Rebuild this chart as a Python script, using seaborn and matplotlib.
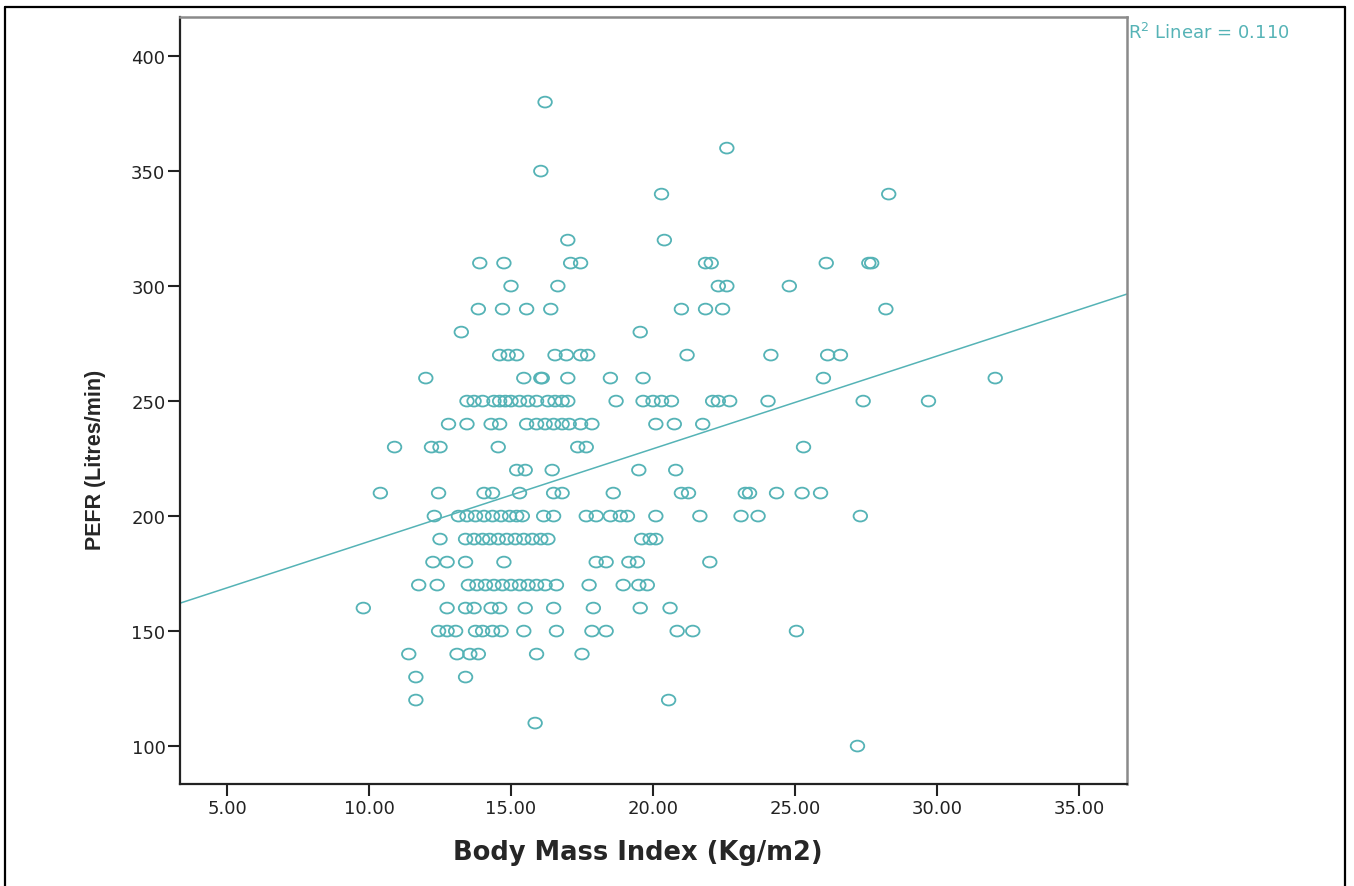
import numpy as np
import pandas as pd
import seaborn as sns
import matplotlib.pyplot as plt
from matplotlib.lines import Line2D
from matplotlib.path import Path
from matplotlib.transforms import Affine2D

# PEFR 값(행)별로 읽은 BMI 값
bmi_380 = [16.2]
bmi_360 = [22.6]
bmi_350 = [16.05]
bmi_340 = [20.3, 28.3]
bmi_320 = [17.0, 20.4]
bmi_310 = [13.9, 14.75, 17.1, 17.45, 21.85, 22.05, 26.1, 27.6, 27.7]
bmi_300 = [15.0, 16.65, 22.3, 22.6, 24.8]
bmi_290 = [13.85, 14.7, 15.55, 16.4, 21.0, 21.85, 22.45, 28.2]
bmi_280 = [13.25, 19.55]
bmi_270 = [14.6, 14.9, 15.2, 16.55, 16.95, 17.45, 17.7, 21.2, 24.15, 26.15, 26.6]
bmi_260 = [12.0, 15.45, 16.05, 16.1, 17.0, 18.5, 19.65, 26.0, 32.05]
bmi_250 = [13.45, 13.7, 14.0, 14.4, 14.6, 14.8, 15.0, 15.3, 15.6, 15.9, 16.3, 16.55,
           16.8, 17.0, 18.7, 19.65, 20.0, 20.3, 20.65, 22.1, 22.3, 22.7, 24.05, 27.4, 29.7]
bmi_240 = [12.8, 13.45, 14.3, 14.6, 15.55, 15.9, 16.2, 16.5, 16.8, 17.05, 17.45, 17.85,
           20.1, 20.75, 21.75]
bmi_230 = [10.9, 12.2, 12.5, 14.55, 17.35, 17.65, 25.3]
bmi_220 = [15.2, 15.5, 16.45, 19.5, 20.8]
bmi_210 = [10.4, 12.45, 14.05, 14.35, 15.3, 16.5, 16.8, 18.6, 21.0, 21.25, 23.25, 23.4,
           24.35, 25.25, 25.9]
bmi_200 = [12.3, 13.15, 13.45, 13.75, 14.05, 14.35, 14.65, 14.95, 15.2, 15.4, 16.15, 16.5,
           17.65, 18.0, 18.5, 18.85, 19.1, 20.1, 21.65, 23.1, 23.7, 27.3]
bmi_190 = [12.5, 13.4, 13.7, 14.0, 14.25, 14.55, 14.85, 15.15, 15.45, 15.75, 16.05, 16.3,
           19.6, 19.9, 20.1]
bmi_180 = [12.25, 12.75, 13.4, 14.75, 18.0, 18.35, 19.15, 19.45, 22.0]
bmi_170 = [11.75, 12.4, 13.5, 13.8, 14.1, 14.4, 14.7, 15.0, 15.3, 15.6, 15.9, 16.2, 16.6,
           17.75, 18.95, 19.5, 19.8]
bmi_160 = [9.8, 12.75, 13.4, 13.7, 14.3, 14.6, 15.5, 16.5, 17.9, 19.55, 20.6]
bmi_150 = [12.45, 12.75, 13.05, 13.75, 14.0, 14.35, 14.65, 15.45, 16.6, 17.85, 18.35,
           20.85, 21.4, 25.05]
bmi_140 = [11.4, 13.1, 13.55, 13.85, 15.9, 17.5]
bmi_130 = [11.65, 13.4]
bmi_120 = [11.65, 20.55]
bmi_110 = [15.85]
bmi_100 = [27.2]

rows = {380: bmi_380, 360: bmi_360, 350: bmi_350, 340: bmi_340, 320: bmi_320,
        310: bmi_310, 300: bmi_300, 290: bmi_290, 280: bmi_280, 270: bmi_270,
        260: bmi_260, 250: bmi_250, 240: bmi_240, 230: bmi_230, 220: bmi_220,
        210: bmi_210, 200: bmi_200, 190: bmi_190, 180: bmi_180, 170: bmi_170,
        160: bmi_160, 150: bmi_150, 140: bmi_140, 130: bmi_130, 120: bmi_120,
        110: bmi_110, 100: bmi_100}

x_ticks = [5, 10, 15, 20, 25, 30, 35]
y_ticks = [100, 150, 200, 250, 300, 350, 400]
r2_text = 'R$^2$ Linear = 0.110'

df = pd.DataFrame([(b, p) for p, bs in rows.items() for b in bs], columns=['BMI', 'PEFR'])
print(df.shape)

teal = '#55b3b6'
sns.set_style('white')
plt.rcParams['font.family'] = ['DejaVu Sans']

# SPSS 스타일의 납작한 원 마커
oval = Affine2D().scale(1.0, 0.8).transform_path(Path.unit_circle())

fig = plt.figure(figsize=(13.54, 8.87), dpi=100)
ax = fig.add_axes([180 / 1354, 1 - 785 / 887, (1127 - 180) / 1354, (785 - 18) / 887])
ax.set_xlim(3.345, 36.69)
ax.set_ylim(83.5, 417)

sns.scatterplot(data=df, x='BMI', y='PEFR', ax=ax, marker=oval, s=95,
                facecolor='none', edgecolor=teal, linewidth=1.3)
sns.regplot(data=df, x='BMI', y='PEFR', ax=ax, scatter=False, ci=None, truncate=False,
            line_kws={'color': teal, 'linewidth': 1.1})
ax.set_xlim(3.345, 36.69)
ax.set_ylim(83.5, 417)

ax.set_xticks(x_ticks)
ax.set_xticklabels([f'{v:.2f}' for v in x_ticks])
ax.set_yticks(y_ticks)
ax.tick_params(axis='both', direction='out', length=8.5, width=1.5, color='#222222',
               labelsize=13, labelcolor='#222222', pad=2, left=True, bottom=True)
ax.set_xlabel('Body Mass Index (Kg/m2)', fontsize=18.5, fontweight='bold')
ax.xaxis.set_label_coords((638 - 180) / 947, -(853 - 785) / 767)
ax.set_ylabel('PEFR (Litres/min)', fontsize=15.5, fontweight='bold',
              family=['Liberation Sans', 'DejaVu Sans'])
ax.yaxis.set_label_coords(-(180 - 95) / 947, (785 - 460) / 767)
ax.xaxis.label.set_va('center')
ax.yaxis.label.set_va('center')

for side in ['left', 'bottom']:
    ax.spines[side].set_color('#222222')
    ax.spines[side].set_linewidth(1.6)
for side in ['top', 'right']:
    ax.spines[side].set_color('#8a8a8a')
    ax.spines[side].set_linewidth(1.8)

fig.text(1128 / 1354, 1 - 33 / 887, r2_text, color=teal, fontsize=13, va='center', ha='left')

# 바깥 테두리
W, H = 1354, 887
for xs, ys in [([5, 1345], [8, 8]), ([5, 5], [8, 887]), ([1345, 1345], [8, 887])]:
    fig.add_artist(Line2D([x / W for x in xs], [1 - y / H for y in ys],
                          transform=fig.transFigure, color='black', linewidth=1.6))

fig.savefig('out.png', dpi=100)
